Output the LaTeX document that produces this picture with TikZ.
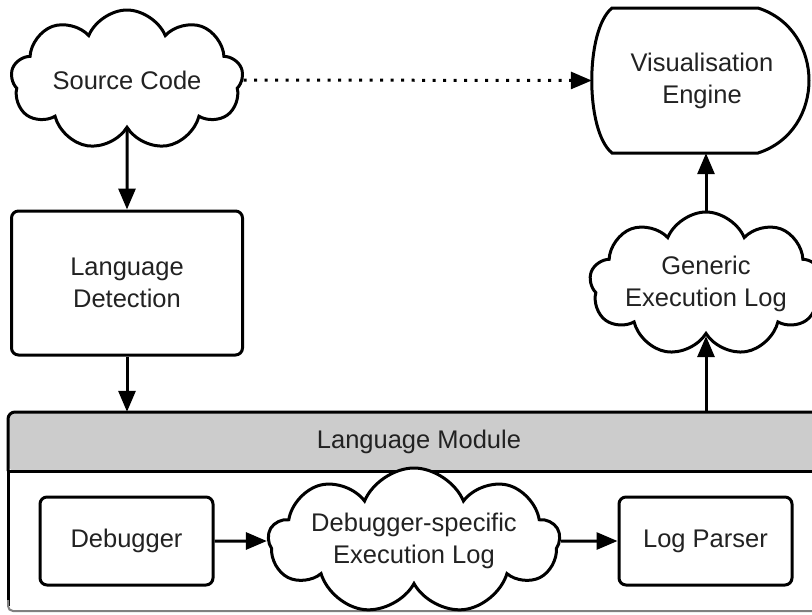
\documentclass[tikz,border=0pt]{standalone}
\usepackage{fontspec}
\setmainfont{Liberation Sans}
\usetikzlibrary{shapes.symbols,arrows.meta}
\definecolor{txt}{HTML}{222222}
\definecolor{hdr}{HTML}{CCCCCC}
\tikzset{
  every node/.style={font=\fontsize{25.5}{32}\selectfont, text=txt, align=center},
  lw/.style={line width=3pt},
  cloudn/.style={cloud, cloud puffs=9, cloud puff arc=135, draw, lw, fill=white, cloud ignores aspect, inner sep=0pt},
  boxn/.style={draw, lw, rounded corners=7pt, fill=white, inner sep=0pt},
  arr/.style={lw, -{Triangle[length=21pt,width=17pt]}},
  dotarr/.style={lw, dash pattern=on 3pt off 7.5pt, -{Triangle[length=21pt,width=17pt]}},
}
\begin{document}
\begin{tikzpicture}[x=1pt,y=-1pt]
\useasboundingbox (0,0) rectangle (812,614);
\clip (0,0) rectangle (812,614);
\fill[white] (0,0) rectangle (812,614);

% Language module
\node[draw=none, minimum width=822pt, minimum height=59pt, inner sep=0pt] (modhead) at (419,441.5) {};
\node[draw=none, minimum width=822pt, minimum height=141pt, inner sep=0pt] (modbody) at (419,541.5) {};
\fill[hdr, rounded corners=7pt] (8,471) -- (8,412) -- (830,412) -- (830,471) -- cycle;
\draw[lw, rounded corners=7pt] (8,471) -- (8,412) -- (830,412);
\draw[lw] (8,471) -- (830,471);
\draw[lw] (8,471) -- (8,606);
\draw[line width=2pt, gray, rounded corners=5pt] (8,600) -- (8,611) -- (830,611);
\node at (modhead) {Language Module};

% Visualisation engine
\node[minimum width=220pt, minimum height=145pt, inner sep=0pt] (vis) at (702,80.5) {Visualisation\\Engine};
\draw[lw] (612,8) -- (758,8) .. controls (826,30) and (826,131) .. (758,153) -- (612,153) .. controls (585,131) and (585,30) .. cycle;

% Clouds
\node[cloudn, minimum width=232pt, minimum height=140pt] (src) at (127,80) {Source Code};
\node[cloudn, minimum width=232pt, minimum height=144pt] (gen) at (706,284) {Generic\\Execution Log};
\node[cloudn, minimum width=290pt, minimum height=146pt] (dbg) at (414,541) {Debugger-specific\\Execution Log};

% Boxes
\node[boxn, minimum width=231pt, minimum height=144pt] (det) at (127,283) {Language\\Detection};
\node[boxn, minimum width=173pt, minimum height=88pt] (debugger) at (126.5,541) {Debugger};
\node[boxn, minimum width=173pt, minimum height=88pt] (parser) at (705.5,541) {Log Parser};

% Connectors
\draw[dotarr] (src.east) -- (vis.west);
\draw[arr] (src.south) -- (det.north);
\draw[arr] (det.south) -- (det.south |- modhead.north);
\draw[arr] (gen.south |- modhead.north) -- (gen.south);
\draw[arr] (gen.north) -- (gen.north |- vis.south);
\draw[arr] (debugger.east) -- (dbg.west);
\draw[arr] (dbg.east) -- (parser.west);
\end{tikzpicture}
\end{document}
